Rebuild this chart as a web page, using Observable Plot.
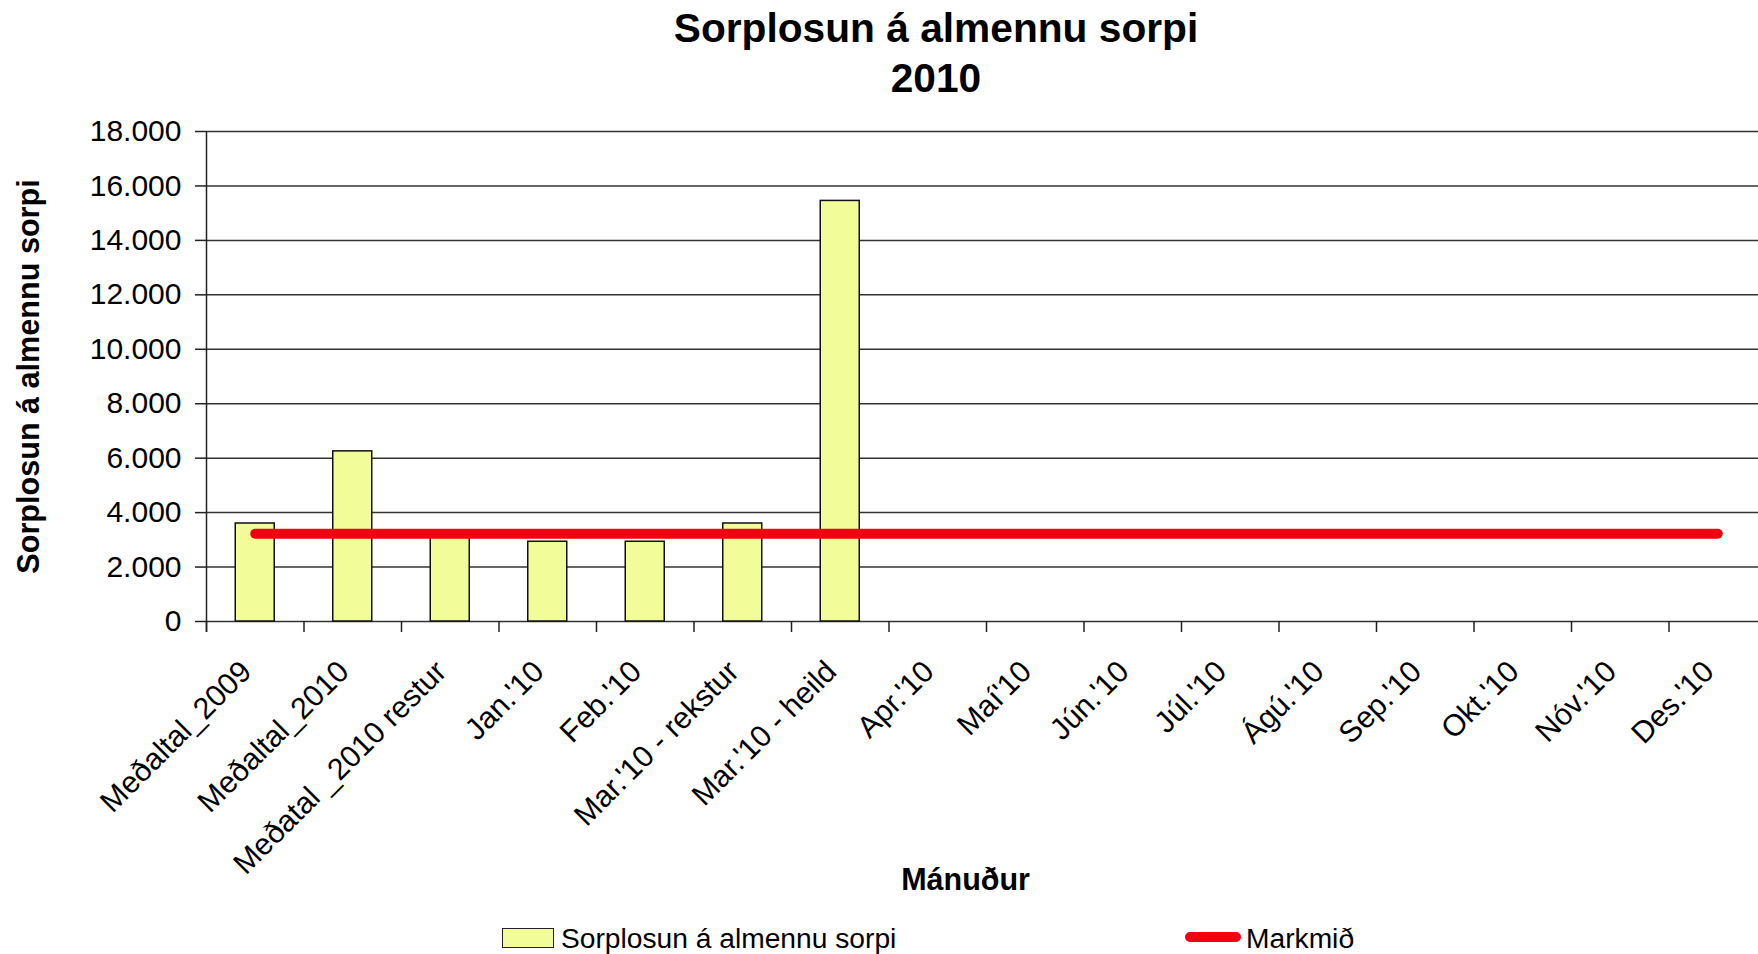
<!DOCTYPE html>
<html><head><meta charset="utf-8">
<script src="https://cdn.jsdelivr.net/npm/d3@7"></script>
<script src="https://cdn.jsdelivr.net/npm/@observablehq/plot@0.6"></script>
<style>
body{margin:0;background:#fff;font-family:"Liberation Sans",Arial,sans-serif;color:#000;}
#title{width:1758px;box-sizing:border-box;padding-left:114px;padding-top:3px;height:100px;text-align:center;font-weight:bold;font-size:40.7px;line-height:50px;}
#chart svg{display:block;}
#legend{position:relative;width:1758px;height:54px;font-size:28.2px;line-height:32px;}
#legend .sw{position:absolute;box-sizing:border-box;}
#legend .lb{position:absolute;white-space:nowrap;}
</style></head><body>
<div id="title"></div>
<div id="chart"></div>
<div id="legend"></div>
<script>
// ---- data ----
const titleLines = ["Sorplosun á almennu sorpi", "2010"];
const categories = ["Meðaltal_2009", "Meðaltal_2010", "Meðatal _2010 restur", "Jan.'10", "Feb.'10",
  "Mar.'10 - rekstur", "Mar.'10 - heild", "Apr.'10", "Maí'10", "Jún.'10", "Júl.'10", "Ágú.'10",
  "Sep.'10", "Okt.'10", "Nóv.'10", "Des.'10"];
const values = [3600, 6250, 3200, 2930, 2930, 3600, 15450, null, null, null, null, null, null, null, null, null];
const targets = [3225, 3225, 3225, 3225, 3225, 3225, 3225, 3225, 3225, 3225, 3225, 3225, 3225, 3225, 3225, 3225];
const yTicks = [0, 2000, 4000, 6000, 8000, 10000, 12000, 14000, 16000, 18000];
const seriesName = "Sorplosun á almennu sorpi";
const targetName = "Markmið";
const yTitle = "Sorplosun á almennu sorpi";
const xTitle = "Mánuður";

// ---- build ----
document.getElementById("title").innerHTML = titleLines.join("<br>");
const barData = categories.map((c, i) => ({category: c, value: values[i]})).filter(d => d.value != null);
const targetData = categories.map((c, i) => ({category: c, target: targets[i]}));
const fmt = d3.formatLocale({decimal: ",", thousands: ".", grouping: [3], currency: ["", ""]}).format(",d");

const W = 1758, H = 800, mL = 206, mR = -8, mT = 31, mB = 279;
const step = (W - mR - mL) / categories.length;
const barFill = "#f2fc98", red = "#f20012", axisCol = "#222";

const chart = Plot.plot({
  width: W, height: H,
  marginLeft: mL, marginRight: mR, marginTop: mT, marginBottom: mB,
  style: {fontFamily: "'Liberation Sans', Arial, sans-serif", background: "#fff", color: "#000"},
  x: {domain: categories, paddingInner: 0.6, paddingOuter: 0.3, round: false, axis: null},
  y: {domain: [0, 18000], axis: null},
  marks: [
    Plot.ruleY(yTicks, {stroke: "#333", strokeWidth: 1.5}),
    Plot.barY(barData, {x: "category", y: "value", fill: barFill, stroke: "#111", strokeWidth: 1.5}),
    Plot.ruleX([categories[0]], {x: d => d, dx: -step / 2, stroke: axisCol, strokeWidth: 1.5, insetBottom: -11}),
    Plot.axisX(categories, {tickSize: 11, dx: -step / 2, stroke: axisCol, strokeWidth: 1.5, fill: "none", label: null}),
    Plot.lineY(targetData, {x: "category", y: "target", stroke: red, strokeWidth: 10, strokeLinecap: "round"}),
    Plot.axisY(yTicks, {tickSize: 11, tickPadding: 14, tickFormat: fmt, fontSize: 30, stroke: axisCol, strokeWidth: 1.5, fill: "#000", label: null}),
    Plot.text(categories, {x: d => d, text: d => d, frameAnchor: "bottom", dx: -9, dy: 45, rotate: -45, textAnchor: "end", lineAnchor: "middle", fontSize: 30.3, fill: "#000"}),
    Plot.text([yTitle], {text: d => d, frameAnchor: "left", dx: -177, rotate: -90, textAnchor: "middle", lineAnchor: "middle", fontSize: 30.6, fontWeight: "bold", fill: "#000"}),
    Plot.text([xTitle], {text: d => d, frameAnchor: "bottom", dy: 259, dx: -21, textAnchor: "middle", lineAnchor: "middle", fontSize: 30.5, fontWeight: "bold", fill: "#000"})
  ]
});
document.getElementById("chart").appendChild(chart);

// ---- legend ----
const lg = document.getElementById("legend");
lg.innerHTML = `
  <div class="sw" style="left:502px;top:28px;width:52px;height:20px;background:${barFill};border:1.5px solid #222;"></div>
  <div class="lb" style="left:561px;top:22px;">${seriesName}</div>
  <div class="sw" style="left:1185px;top:32px;width:56px;height:10px;background:${red};border-radius:5px;"></div>
  <div class="lb" style="left:1246px;top:22px;">${targetName}</div>`;
</script>
</body></html>
